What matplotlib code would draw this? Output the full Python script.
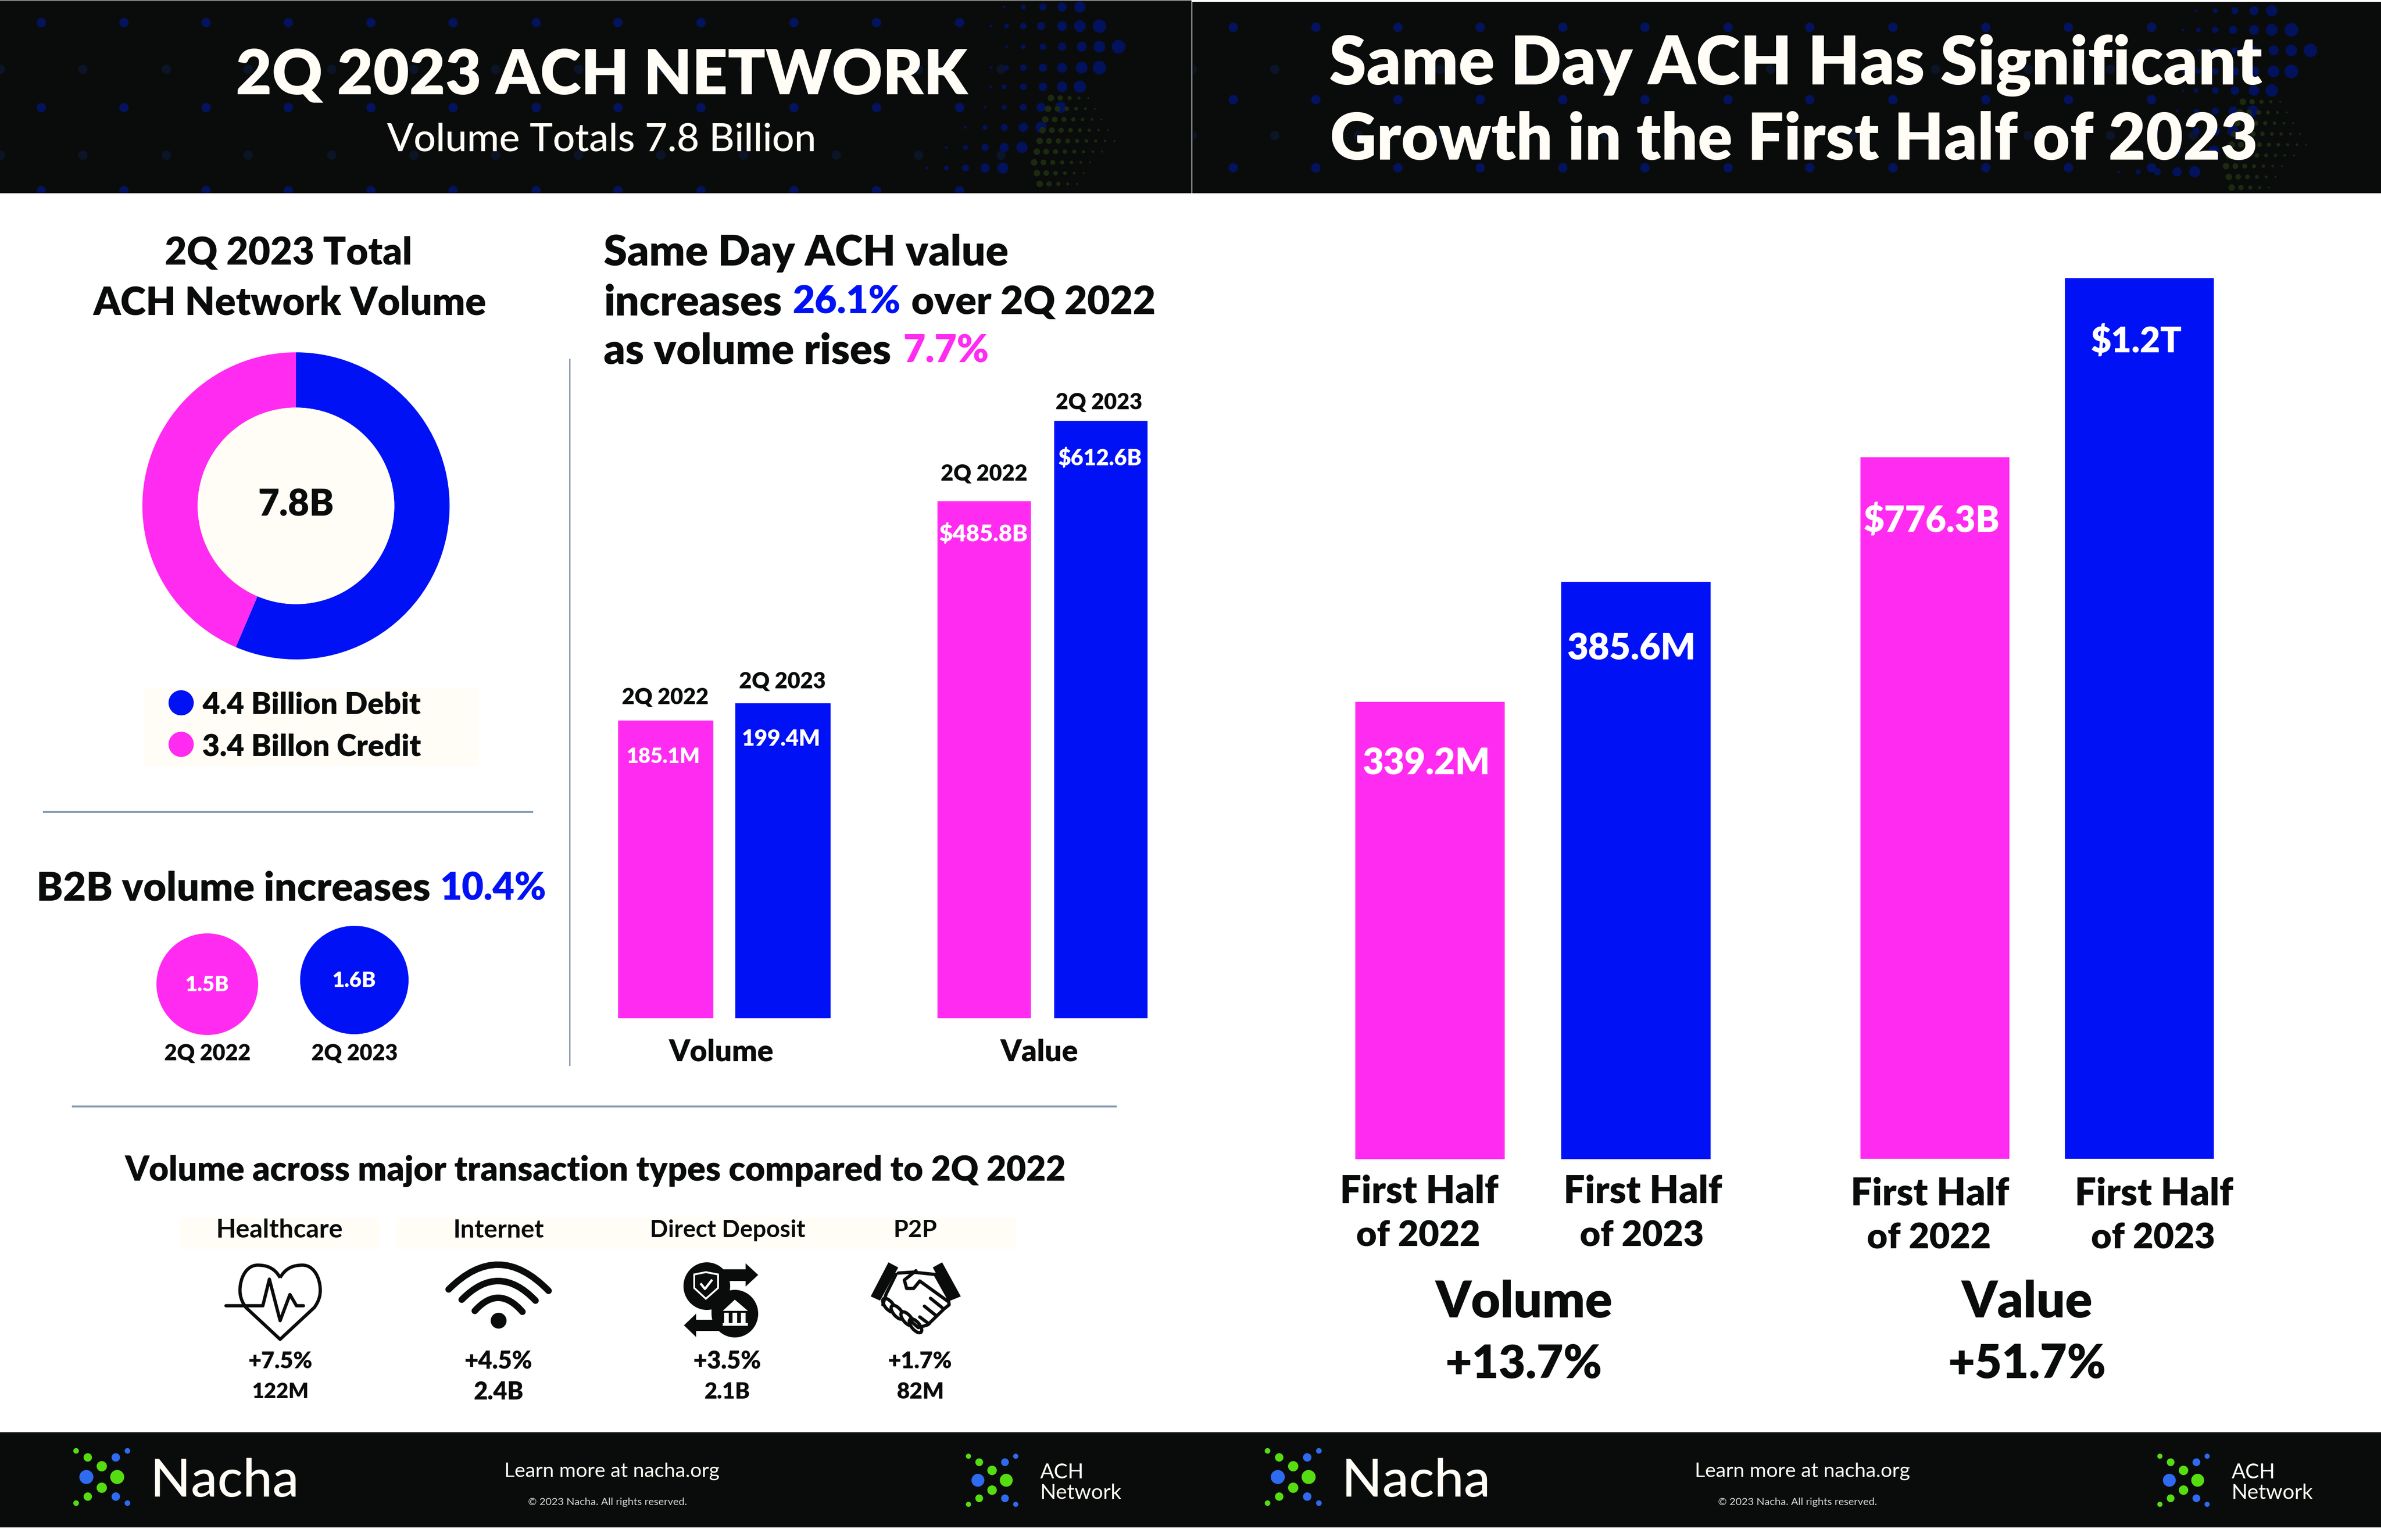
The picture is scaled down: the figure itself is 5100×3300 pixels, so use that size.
import numpy as np
from matplotlib import pyplot as plt
from matplotlib.patches import Circle, Ellipse, PathPatch, Polygon, Rectangle
from matplotlib.path import Path

# Data
donut_labels = ["4.4 Billion Debit", "3.4 Billon Credit"]
donut_values = [4.4, 3.4]
b2b_periods = ["2Q 2022", "2Q 2023"]
b2b_values = [1.5, 1.6]
sd_periods = ["2Q 2022", "2Q 2023"]
sd_volume = [185.1, 199.4]
sd_value = [485.8, 612.6]
half_volume = [339.2, 385.6]
half_value = [776.3, 1200.0]
type_names = ["Healthcare", "Internet", "Direct Deposit", "P2P"]
type_growth = ["+7.5%", "+4.5%", "+3.5%", "+1.7%"]
type_totals = ["122M", "2.4B", "2.1B", "82M"]

W, H = 5100, 3300
PINK = "#FF2BF0"
BLUE = "#0012F5"
BLACK = "#0A0C0C"
IVORY = "#FFFDF5"
GREEN = "#55DD11"
LOGO_BLUE = "#2F6BF0"
LINE = "#8A9BB0"
FONT = "Lato"

fig = plt.figure(figsize=(17, 11), dpi=300, facecolor="white")
renderer = fig.canvas.get_renderer()


def axes_px(left, top, right, bottom, zorder=1):
    ax = fig.add_axes([left / W, 1 - bottom / H, (right - left) / W, (bottom - top) / H], zorder=zorder)
    ax.axis("off")
    return ax


bg = axes_px(0, 0, W, H, zorder=0)
bg.set_xlim(0, W)
bg.set_ylim(H, 0)
fg = axes_px(0, 0, W, H, zorder=5)
fg.set_xlim(0, W)
fg.set_ylim(H, 0)


def px_lw(px):
    return px * 72 / 300


# Text is sized so that it takes the same width as in the picture
def label(x, y, s, width, color=BLACK, weight="heavy", ha="center"):
    t = fg.text(x, y, s, color=color, fontweight=weight, family=FONT, ha=ha, va="center_baseline", fontsize=20)
    t.set_fontsize(20 * width / t.get_window_extent(renderer).width)
    return t


def dots(xs, ys, radius, color, clip):
    s = (2 * px_lw(np.asarray(radius, dtype=float))) ** 2
    art = bg.scatter(xs, ys, s=s, c=color, linewidths=0, zorder=2)
    art.set_clip_path(clip)


# Dark header with its dotted background
def header(left, top, right, bottom, dx, bright_rows, dim_rows, dy):
    panel = Rectangle((left, top), right - left, bottom - top, color=BLACK, zorder=1)
    bg.add_patch(panel)
    for y in bright_rows:
        xs = np.array([88, 265, 441, 617, 794, 970, 1148, 1323, 1501, 1700, 1877, 2055]) + dx
        dots(xs, [y] * len(xs), 10, "#03135E", panel)
    for y in dim_rows:
        xs = np.array([0, 177, 356, 531, 710, 886, 1061, 1239, 1415, 1592, 1791, 1967, 2144]) + dx
        dots(xs, [y] * len(xs), 10, "#0C1427", panel)

    # Blue swirl towards the right end
    swirl = [
        (15, [2151, 2192, 2234, 2275, 2313]),
        (56, [2123, 2156, 2192, 2230, 2275, 2313, 2355]),
        (100, [2156, 2192, 2234, 2275, 2317, 2355, 2396]),
        (145, [2123, 2156, 2192, 2234, 2275, 2317, 2355]),
        (186, [2123, 2151, 2192, 2234, 2275, 2313]),
        (230, [2110, 2151, 2192, 2230, 2272]),
        (273, [2068, 2110, 2151, 2192, 2230]),
        (316, [2027, 2068, 2110, 2151, 2189]),
        (360, [1985, 2027, 2068, 2110, 2148]),
    ]
    for y, xs in swirl:
        radii = np.linspace(3, 6 + len(xs) * 1.2, len(xs))
        dots(np.array(xs) + dx, [y + dy] * len(xs), radii, "#03125C", panel)

    # Green swirl below it
    for i, y in enumerate(range(210, 410, 23)):
        n = 5 + min(i, 8 - i)
        xs = 2215 + 20 * np.arange(n) + 6 * abs(i - 6)
        radii = np.linspace(7, 2, n)
        dots(xs + dx, [y + dy] * n, radii, "#1C2A10", panel)


def logo(cx, cy, scale=1.0):
    spots = [
        (-55, -56, 6, GREEN), (55, -56, 6, LOGO_BLUE), (-55, 56, 6, GREEN), (55, 56, 6, LOGO_BLUE),
        (-30, -42, 9, GREEN), (30, -42, 9, LOGO_BLUE), (-30, 42, 9, GREEN), (30, 42, 9, LOGO_BLUE),
        (0, -23, 11, GREEN), (0, 23, 11, GREEN), (-33, 0, 15, LOGO_BLUE), (33, 0, 15, GREEN),
    ]
    for dx, dy, r, c in spots:
        fg.add_patch(Circle((cx + dx * scale, cy + dy * scale), r * scale, color=c, lw=0))


def bar_pair(values, left, right, top, baseline, ymin, width):
    ax = axes_px(left, top, right, baseline, zorder=2)
    ax.set_xlim(-0.5, 1.5)
    ax.set_ylim(ymin, max(values))
    ax.bar([0, 1], np.array(values) - ymin, bottom=ymin, width=width, color=[PINK, BLUE], linewidth=0)
    return ax


# Headers
header(0, 3, 2550, 412, 0, [48, 230, 408], [148, 332], 0)
header(2556, 6, W, 412, 2553, [58, 213, 359], [148, 290], 8)
label(1289, 152, "2Q 2023 ACH NETWORK", 1567, color=IVORY)
label(1289, 293, "Volume Totals 7.8 Billion", 920, color=IVORY, weight="medium")
label(3846, 127, "Same Day ACH Has Significant", 2001, color=IVORY)
label(3843, 290, "Growth in the First Half of 2023", 1990, color=IVORY)

# Donut
label(618, 536, "2Q 2023 Total", 530)
label(620, 643, "ACH Network Volume", 842)
ax_donut = axes_px(634 - 329, 1084 - 329, 634 + 329, 1084 + 329, zorder=2)
ax_donut.pie(donut_values, colors=[BLUE, PINK], startangle=90, counterclock=False, radius=1.0,
             wedgeprops={"width": 0.36, "linewidth": 0})
ax_donut.set_xlim(-1, 1)
ax_donut.set_ylim(-1, 1)
ax_donut.add_patch(Circle((0, 0), 0.64, color=IVORY, lw=0))
label(634, 1075, "7.8B", 163)

# Donut legend
bg.add_patch(Rectangle((308, 1475), 718, 166, color=IVORY, lw=0))
for y, c, s in zip([1506, 1595], [BLUE, PINK], donut_labels):
    fg.add_patch(Circle((388, y), 27, color=c, lw=0))
    label(433, y, s, 469, ha="left")

# Separators
bg.plot([94, 1140], [1740, 1740], color=LINE, lw=px_lw(4))
bg.plot([1220, 1220], [770, 2282], color=LINE, lw=px_lw(3))
bg.plot([156, 2390], [2371, 2371], color=LINE, lw=px_lw(4))

# B2B circles, the radius follows the value
label(78, 1898, "B2B volume increases", 845, ha="left")
label(943, 1898, "10.4%", 228, color=BLUE, ha="left")
for x, y, v, c, p in zip([444, 759], [2109, 2100], b2b_values, [PINK, BLUE], b2b_periods):
    fg.add_patch(Circle((x, y), v * 72.6, color=c, lw=0))
    label(x, y - 2, f"{v}B", 94, color="white")
    label(x, 2254, p, 185)

# Same Day text block
label(1293, 535, "Same Day ACH value", 867, ha="left")
label(1293, 641, "increases", 382, ha="left")
label(1697, 641, "26.1%", 232, color=BLUE, ha="left")
label(1952, 641, "over 2Q 2022", 524, ha="left")
label(1293, 746, "as volume rises", 617, ha="left")
label(1935, 746, "7.7%", 184, color=PINK, ha="left")

# 2Q bars
bar_pair(sd_volume, 1300, 1803, 1507, 2182, -61.5, 0.81)
bar_pair(sd_value, 1983, 2483, 902, 2182, -331.0, 0.80)
label(1425, 1491, sd_periods[0], 186)
label(1676, 1457, sd_periods[1], 186)
label(2108, 1012, sd_periods[0], 186)
label(2354, 859, sd_periods[1], 186)
label(1421, 1618, f"{sd_volume[0]}M", 158, color="white")
label(1673, 1580, f"{sd_volume[1]}M", 169, color="white")
label(2106, 1141, f"${sd_value[0]}B", 190, color="white")
label(2356, 979, f"${sd_value[1]}B", 179, color="white")
label(1545, 2249, "Volume", 225)
label(2226, 2249, "Value", 167)

# Transaction types
label(1276, 2503, "Volume across major transaction types compared to 2Q 2022", 2017)
for left, right in [(385, 813), (850, 1276), (1276, 1829), (1829, 2176)]:
    bg.add_patch(Rectangle((left, 2610), right - left, 66, color=IVORY, lw=0))
type_x = [598, 1068, 1558, 1961]
value_x = [601, 1068, 1558, 1971]
name_w = [272, 195, 333, 94]
growth_w = [138, 146, 146, 138]
total_w = [122, 107, 98, 102]
for i in range(4):
    label(type_x[i], 2632, type_names[i], name_w[i], weight="bold")
    label(value_x[i], 2913, type_growth[i], growth_w[i])
    label(value_x[i], 2979, type_totals[i], total_w[i])

# Heart icon
heart = Path(
    [(600, 2738), (612, 2716), (630, 2711), (648, 2711), (672, 2711), (686, 2738), (686, 2765),
     (686, 2778), (682, 2790), (673, 2802), (600, 2870), (527, 2802), (518, 2790), (514, 2778), (514, 2765),
     (514, 2738), (528, 2711), (552, 2711), (570, 2711), (588, 2716), (600, 2738)],
    [Path.MOVETO, Path.CURVE4, Path.CURVE4, Path.CURVE4, Path.CURVE4, Path.CURVE4, Path.CURVE4,
     Path.CURVE4, Path.CURVE4, Path.CURVE4, Path.LINETO, Path.LINETO, Path.CURVE4, Path.CURVE4, Path.CURVE4,
     Path.CURVE4, Path.CURVE4, Path.CURVE4, Path.CURVE4, Path.CURVE4, Path.CURVE4],
)
fg.add_patch(PathPatch(heart, fc="none", ec=BLACK, lw=px_lw(7), joinstyle="round"))
fg.plot([484, 563, 577, 600, 621, 635, 650], [2798, 2798, 2741, 2830, 2774, 2798, 2798],
        color=BLACK, lw=px_lw(7), solid_capstyle="round", solid_joinstyle="round")

# Wifi icon
for (x0, y0), (x1, y1), apex in [((961, 2763), (1175, 2766), 2710),
                                 ((989, 2785), (1147, 2787), 2745),
                                 ((1017, 2809), (1119, 2811), 2781)]:
    ctrl_y = 2 * apex - (y0 + y1) / 2
    arc = Path([(x0, y0), ((x0 + x1) / 2, ctrl_y), (x1, y1)], [Path.MOVETO, Path.CURVE3, Path.CURVE3])
    fg.add_patch(PathPatch(arc, fc="none", ec=BLACK, lw=px_lw(14), capstyle="round"))
fg.add_patch(Circle((1068, 2830), 17, color=BLACK, lw=0))

# Direct deposit icon
fg.add_patch(Ellipse((1514, 2756), 100, 102, color=BLACK, lw=0))
fg.add_patch(Ellipse((1574, 2815), 100, 102, color=BLACK, lw=0))
fg.add_patch(Rectangle((1524, 2775), 40, 40, color=BLACK, lw=0))
fg.add_patch(Polygon([(1514, 2720), (1597, 2720), (1597, 2707), (1624, 2732), (1597, 2757), (1597, 2745), (1514, 2745)],
                     color=BLACK, lw=0))
fg.add_patch(Polygon([(1574, 2828), (1491, 2828), (1491, 2815), (1465, 2840), (1491, 2865), (1491, 2852), (1574, 2852)],
                     color=BLACK, lw=0))
fg.add_patch(Polygon([(1487, 2731), (1512, 2726), (1538, 2731), (1538, 2760), (1512, 2783), (1487, 2760)],
                     fc="none", ec="white", lw=px_lw(4)))
fg.plot([1502, 1510, 1524], [2752, 2762, 2744], color="white", lw=px_lw(5))
fg.add_patch(Polygon([(1574, 2785), (1548, 2809), (1602, 2809)], color="white", lw=0))
for x in [1556, 1574, 1592]:
    fg.add_patch(Rectangle((x - 5, 2813), 10, 22, color="white", lw=0))
fg.add_patch(Rectangle((1548, 2835), 54, 6, color="white", lw=0))

# Handshake icon
fg.add_patch(Polygon([(1903, 2705), (1924, 2716), (1885, 2787), (1865, 2778)], color=BLACK, lw=0))
fg.add_patch(Polygon([(2018, 2705), (1998, 2716), (2036, 2787), (2058, 2778)], color=BLACK, lw=0))
hand_lines = [
    [(1924, 2728), (1955, 2726), (2003, 2731), (2031, 2781), (2033, 2796), (2023, 2804), (1987, 2839), (1967, 2845), (1952, 2832)],
    [(1919, 2731), (1898, 2773), (1891, 2796)],
    [(1962, 2723), (1937, 2743), (1942, 2761), (1957, 2761), (1970, 2745), (2031, 2789)],
    [(1993, 2782), (2018, 2802)],
    [(1980, 2799), (2006, 2820)],
    [(1970, 2822), (1990, 2837)],
]
for pts in hand_lines:
    xs, ys = zip(*pts)
    fg.plot(xs, ys, color=BLACK, lw=px_lw(7), solid_capstyle="round", solid_joinstyle="round")
for x, y in [(1904, 2797), (1922, 2812), (1943, 2826), (1961, 2841)]:
    fg.add_patch(Ellipse((x, y), 36, 17, angle=50, fc="white", ec=BLACK, lw=px_lw(7)))

# Right panel bars
bar_pair(half_volume, 2842.5, 3724.5, 1247, 2484, 162.0, 0.725)
bar_pair(half_value, 3925.75, 4801.25, 596, 2483, -883.0, 0.73)
label(3055, 1631, f"{half_volume[0]}M", 273, color="white")
label(3494, 1384, f"{half_volume[1]}M", 276, color="white")
label(4137, 1110, f"${half_value[0]}B", 292, color="white")
label(4576, 727, "$1.2T", 195, color="white")
for x, y, year in zip([3040, 3519, 4134, 4614], [2547, 2547, 2552, 2552], ["2022", "2023", "2022", "2023"]):
    label(x, y, "First Half", 340)
    label(x - 2, y + 95, f"of {year}", 266)
label(3264, 2783, "Volume", 380)
label(3264, 2916, "+13.7%", 336)
label(4342, 2783, "Value", 281)
label(4342, 2916, "+51.7%", 339)

# Footer
bg.add_patch(Rectangle((0, 3069), W, 204, color=BLACK, lw=0, zorder=1))
for x_logo, x_name, x_mid, x_copy, x_small, x_text in [(218, 322, 1311, 1301, 2125, 2228),
                                                       (2770, 2874, 3861, 3850, 4677, 4780)]:
    logo(x_logo, 3165)
    label(x_name, 3165, "Nacha", 318, color=IVORY, weight="medium", ha="left")
    label(x_mid, 3150, "Learn more at nacha.org", 463, color=IVORY, weight="normal")
    label(x_copy, 3217, "© 2023 Nacha. All rights reserved.", 341, color="#D8D8D2", weight="normal")
    logo(x_small, 3172, scale=0.92)
    label(x_text, 3151, "ACH", 94, color=IVORY, weight="normal", ha="left")
    label(x_text, 3196, "Network", 175, color=IVORY, weight="normal", ha="left")

fig.savefig("out.png", dpi=300, facecolor="white")
